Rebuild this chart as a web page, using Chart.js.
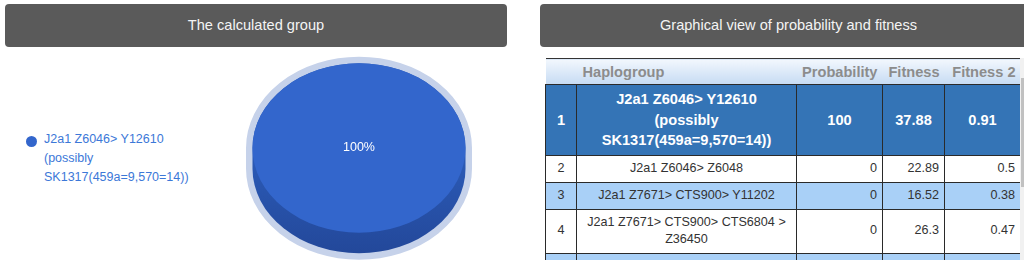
<!DOCTYPE html>
<html>
<head>
<meta charset="utf-8">
<style>
  body { margin: 0; width: 1024px; height: 260px; overflow: hidden; background: #fff;
         font-family: Arial, "Liberation Sans", sans-serif; position: relative; }
  .bar { position: absolute; top: 4px; height: 43px; line-height: 43px; background: #5a5a5a;
         color: #f4f4f4; font-size: 14.6px; text-align: center; border-radius: 4px; }
  #pieBox { position: absolute; left: 239px; top: 40px; width: 240px; height: 220px; }
  #legend { position: absolute; left: 26px; top: 130px; width: 160px; }
  .lg-item { position: relative; padding-left: 18px; color: #3c78d8; font-size: 12.5px; line-height: 19px; }
  .lg-dot { position: absolute; left: 0; top: 6px; width: 11px; height: 11px; border-radius: 50%; }
  #tableBox { position: absolute; left: 545px; top: 58px; width: 479px; height: 202px; overflow: hidden; }
  table { border-collapse: collapse; table-layout: fixed; width: 475px; }
  th { height: 25px; padding: 0 5px; font-size: 14.6px; font-weight: bold; color: #8c8c8c;
       background: linear-gradient(#f2f7fd, #c6dbf3); border-top: 1px solid #333; white-space: nowrap; }
  th.l { text-align: left; padding-left: 6px; }
  th.r { text-align: right; }
  td { border: 1px solid #2a2a2a; padding: 4px 5px; font-size: 12.6px; line-height: 17.7px; color: #333; }
  td.c { text-align: center; }
  td.h { text-align: center; padding: 4px 8px; }
  td.r { text-align: right; }
  tr.sel td { background: #3474b6; color: #fff; font-weight: bold; font-size: 14.6px;
              line-height: 20.7px; text-align: center; }
  tr.alt td { background: #a9d0f7; }
  #track { position: absolute; left: 1020px; top: 58px; width: 4px; height: 202px; background: #f1f1f1; }
  #thumb { position: absolute; left: 1021px; top: 78px; width: 3px; height: 109px; background: #c1c1c1; }
</style>
</head>
<body>

<div class="bar" style="left:5px; width:502px;">The calculated group</div>
<div class="bar" style="left:540px; width:497px;">Graphical view of probability and fitness</div>

<div id="legend"></div>
<div id="pieBox"><canvas id="pie"></canvas></div>

<div id="tableBox">
  <table id="tbl">
    <colgroup><col style="width:31px"><col style="width:220px"><col style="width:86px"><col style="width:62px"><col style="width:76px"></colgroup>
    <thead><tr><th></th><th class="l">Haplogroup</th><th class="r">Probability</th><th class="r">Fitness</th><th class="r">Fitness 2</th></tr></thead>
    <tbody></tbody>
  </table>
</div>
<div id="track"></div><div id="thumb"></div>

<script src="https://cdn.jsdelivr.net/npm/chart.js"></script>
<script>
const rank = [1, 2, 3, 4];
const haplogroups = [
  'J2a1 Z6046> Y12610 (possibly SK1317(459a=9,570=14))',
  'J2a1 Z6046> Z6048',
  'J2a1 Z7671> CTS900> Y11202',
  'J2a1 Z7671> CTS900> CTS6804 > Z36450'
];
const probability = [100, 0, 0, 0];
const fitness = [37.88, 22.89, 16.52, 26.3];
const fitness2 = [0.91, 0.5, 0.38, 0.47];

// the pie only shows groups that got some probability
const pieLabels = haplogroups.filter((h, i) => probability[i] > 0);
const pieValues = probability.filter(p => p > 0);
const pieColors = ['#3366cc'];

// fake 3d: squash the pie and put a darker slab under it
const pie3d = {
  id: 'pie3d',
  beforeDatasetsDraw(chart, args, opts) {
    const arc = chart.getDatasetMeta(0).data[0];
    const x = arc.x, y = arc.y, r = arc.outerRadius;
    const k = opts.tilt, d = opts.depth / k;
    const ctx = chart.ctx;
    ctx.save();
    ctx.save();
    ctx.translate(x, y); ctx.scale(1, k); ctx.translate(-x, -y);
    ctx.beginPath();
    ctx.arc(x, y, r, Math.PI, 0);
    ctx.lineTo(x + r, y + d);
    ctx.arc(x, y + d, r, 0, Math.PI);
    ctx.closePath();
    ctx.restore();
    ctx.lineWidth = opts.halo * 2;
    ctx.strokeStyle = opts.haloColor;
    ctx.lineJoin = 'round';
    ctx.stroke();
    const g = ctx.createLinearGradient(0, y, 0, y + r * k + opts.depth);
    g.addColorStop(0, opts.sideTop);
    g.addColorStop(1, opts.sideBottom);
    ctx.fillStyle = g;
    ctx.fill();
    ctx.translate(x, y); ctx.scale(1, k); ctx.translate(-x, -y);
  },
  afterDatasetsDraw(chart) {
    const ctx = chart.ctx;
    ctx.restore();
    const arc = chart.getDatasetMeta(0).data[0];
    const total = pieValues.reduce((a, b) => a + b, 0);
    ctx.save();
    ctx.fillStyle = '#fff';
    ctx.font = '12.5px Arial, "Liberation Sans"';
    ctx.textAlign = 'center';
    ctx.textBaseline = 'middle';
    ctx.fillText(Math.round(pieValues[0] / total * 100) + '%', arc.x, arc.y);
    ctx.restore();
  }
};

const pieChart = new Chart(document.getElementById('pie'), {
  type: 'pie',
  data: {
    labels: pieLabels,
    datasets: [{ data: pieValues, backgroundColor: pieColors, borderWidth: 0, hoverOffset: 0, offset: 0, clip: false }]
  },
  options: {
    responsive: true,
    maintainAspectRatio: false,
    animation: false,
    events: [],
    layout: { padding: { left: 13.5, right: 13.5, top: 0, bottom: 4 } },
    plugins: {
      legend: { display: false },
      tooltip: { enabled: false },
      pie3d: { tilt: 0.795, depth: 20.5, halo: 6.5, haloColor: '#c6d2ea',
               sideTop: '#2c5cb9', sideBottom: '#23489a' }
    }
  },
  plugins: [pie3d]
});

// html legend from the chart's own labels
const lg = document.getElementById('legend');
pieChart.data.labels.forEach((lab, i) => {
  const item = document.createElement('div');
  item.className = 'lg-item';
  item.innerHTML = '<span class="lg-dot" style="background:' + pieColors[i] + '"></span>' + lab;
  lg.appendChild(item);
});

// table rows
const tb = document.querySelector('#tbl tbody');
rank.forEach((n, i) => {
  const tr = document.createElement('tr');
  if (i === 0) tr.className = 'sel';
  else if (i % 2 === 0) tr.className = 'alt';
  tr.innerHTML = '<td class="c">' + n + '</td><td class="h">' + haplogroups[i] + '</td>' +
    '<td class="r">' + probability[i] + '</td><td class="r">' + fitness[i] + '</td><td class="r">' + fitness2[i] + '</td>';
  tb.appendChild(tr);
});
// next (cut off) row stripe
const more = document.createElement('tr');
more.className = 'alt';
more.innerHTML = '<td>&nbsp;</td><td></td><td></td><td></td><td></td>';
tb.appendChild(more);
</script>

</body>
</html>
